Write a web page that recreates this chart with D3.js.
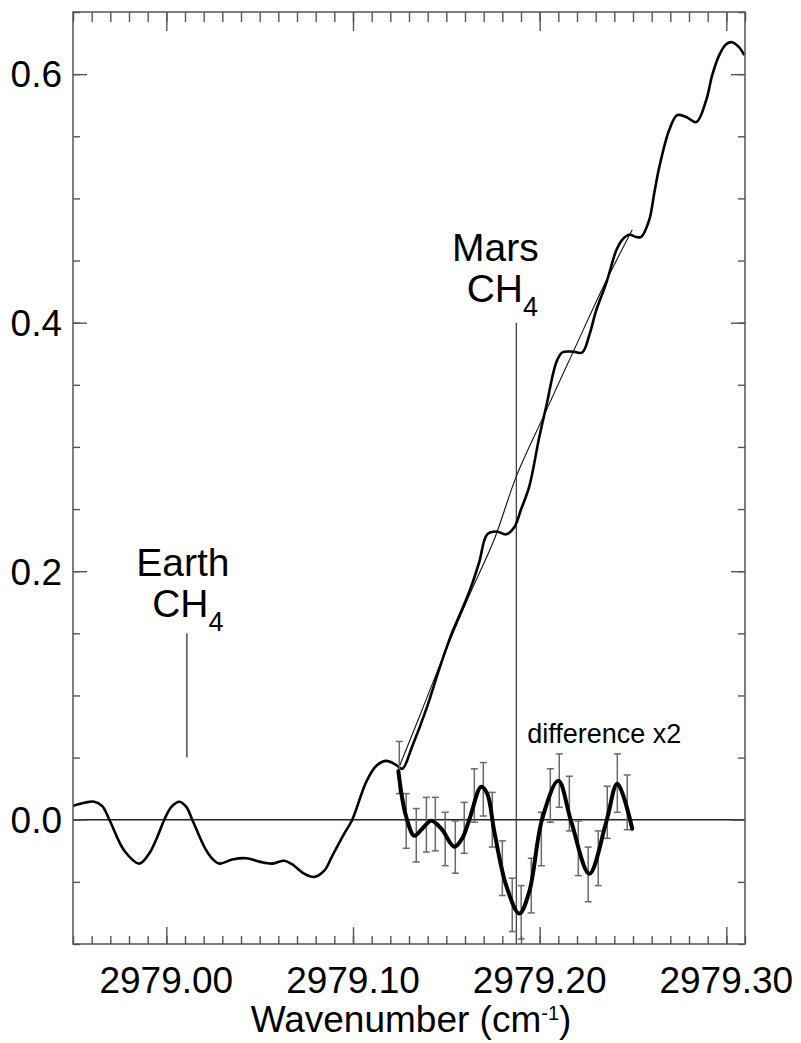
<!DOCTYPE html>
<html>
<head>
<meta charset="utf-8">
<script src="https://cdn.jsdelivr.net/npm/d3@7"></script>
<style>
  body { margin: 0; background: #fff; }
  svg text { font-family: "Liberation Sans", Arial, Helvetica, sans-serif; fill: #000; }
</style>
</head>
<body>
<div id="chart"></div>
<script>
var width = 801, height = 1043;
var margin = {top: 12, right: 56, bottom: 99, left: 73};

// observed spectrum (wavenumber, signal)
var specWn = [2978.9497, 2978.9561, 2978.9614, 2978.9657, 2978.9695, 2978.9775, 2978.9855, 2978.9909, 2978.9952, 2978.9989,
  2979.0027, 2979.0070, 2979.0107, 2979.0139, 2979.0204, 2979.0246, 2979.0284, 2979.0353, 2979.0428, 2979.0498,
  2979.0568, 2979.0632, 2979.0675, 2979.0739, 2979.0793, 2979.0846, 2979.0889, 2979.0953, 2979.0996, 2979.1071,
  2979.1125, 2979.1178, 2979.1232, 2979.1264, 2979.1318, 2979.1393, 2979.1462, 2979.1532, 2979.1585, 2979.1634,
  2979.1676, 2979.1719, 2979.1768, 2979.1821, 2979.1864, 2979.1901, 2979.1944, 2979.1998, 2979.2035, 2979.2089,
  2979.2121, 2979.2175, 2979.2228, 2979.2266, 2979.2303, 2979.2357, 2979.2410, 2979.2442, 2979.2480, 2979.2517,
  2979.2544, 2979.2587, 2979.2614, 2979.2641, 2979.2694, 2979.2737, 2979.2785, 2979.2839, 2979.2892, 2979.2924,
  2979.2962, 2979.2999, 2979.3031, 2979.3068, 2979.3096];
var specVal = [0.011, 0.0137, 0.0145, 0.011, 0.000, -0.025, -0.0353, -0.027, -0.0137, 0.000,
  0.0104, 0.0145, 0.0104, 0.000, -0.022, -0.0313, -0.0353, -0.032, -0.031, -0.0337,
  -0.0353, -0.033, -0.036, -0.0434, -0.046, -0.041, -0.029, -0.0112, 0.000, 0.0305,
  0.0434, 0.0474, 0.0440, 0.041, 0.0594, 0.0892, 0.1213, 0.151, 0.1695, 0.188,
  0.2072, 0.2297, 0.232, 0.2297, 0.2353, 0.25, 0.268, 0.308, 0.3325, 0.368,
  0.376, 0.3767, 0.376, 0.39, 0.41, 0.432, 0.458, 0.4667, 0.4707, 0.469,
  0.469, 0.4827, 0.5044, 0.5253, 0.555, 0.567, 0.5655, 0.5614, 0.579, 0.599,
  0.6153, 0.624, 0.6257, 0.6217, 0.6153];

// model without Mars methane (thin line)
var modelWn = [2979.1237, 2979.1355, 2979.1489, 2979.1623, 2979.1757, 2979.1875, 2979.2025, 2979.2185, 2979.2346, 2979.2496];
var modelVal = [0.0386, 0.0827, 0.1333, 0.1807, 0.2257, 0.2763, 0.326, 0.3783, 0.4305, 0.4747];

// difference x2 (smooth thick curve)
var diffWn = [2979.1243, 2979.1264, 2979.1285, 2979.1328, 2979.1371, 2979.1419, 2979.1473, 2979.1543, 2979.1585, 2979.1623,
  2979.1687, 2979.1719, 2979.1757, 2979.1821, 2979.1891, 2979.1944, 2979.2014, 2979.2100, 2979.2169, 2979.2266,
  2979.2357, 2979.2416, 2979.2496];
var diffVal = [0.039, 0.017, 0.0024, -0.0129, -0.0072, -0.0008, -0.0072, -0.0217, -0.015, 0.000,
  0.0265, 0.021, -0.0096, -0.053, -0.0755, -0.058, 0.001, 0.0313, -0.0016, -0.0434,
  -0.0016, 0.0289, -0.0072];

// difference data points with error bars
var errWn = [2979.1248, 2979.1285, 2979.1339, 2979.1393, 2979.1441, 2979.1494, 2979.1548, 2979.1596, 2979.1650, 2979.1698,
  2979.1746, 2979.1800, 2979.1853, 2979.1901, 2979.1955, 2979.2009, 2979.2057, 2979.2105, 2979.2159, 2979.2207,
  2979.2260, 2979.2314, 2979.2362, 2979.2416, 2979.2469];
var errVal = [0.042, -0.001, -0.0125, -0.004, -0.0035, -0.0155, -0.022, -0.0065, 0.0195, 0.0245,
  0.000, -0.039, -0.0685, -0.0745, -0.053, -0.0155, 0.0195, 0.0315, 0.013, -0.023,
  -0.044, -0.031, 0.006, 0.0295, 0.014];
var errSig = [0.021, 0.022, 0.0215, 0.022, 0.0215, 0.0215, 0.021, 0.0205, 0.0215, 0.0215,
  0.022, 0.022, 0.0215, 0.0215, 0.022, 0.0215, 0.0215, 0.0215, 0.022, 0.022,
  0.022, 0.022, 0.021, 0.0235, 0.022];

var xMajor = [2979.00, 2979.10, 2979.20, 2979.30];
var xTickLabels = ["2979.00", "2979.10", "2979.20", "2979.30"];
var yMajor = [0.0, 0.2, 0.4, 0.6];
var yTickLabels = ["0.0", "0.2", "0.4", "0.6"];

var earthWn = 2979.011, marsWn = 2979.1875;

var w = width - margin.left - margin.right,
    h = height - margin.top - margin.bottom;

var x = d3.scaleLinear().domain([2978.95, 2979.31]).range([0, w]);
var y = d3.scaleLinear().domain([-0.1, 0.65]).range([h, 0]);

var svg = d3.select("#chart").append("svg")
  .attr("width", width)
  .attr("height", height);

var g = svg.append("g").attr("transform", "translate(" + margin.left + "," + margin.top + ")");

g.append("clipPath").attr("id", "plotclip")
  .append("rect").attr("width", w).attr("height", h);

var plot = g.append("g").attr("clip-path", "url(#plotclip)");

// axes: minor + major ticks on all four sides
var xMinor = d3.range(2978.95, 2979.3101, 0.01).map(function(v){ return Math.round(v*100)/100; });
var yMinor = d3.range(-0.1, 0.651, 0.05).map(function(v){ return Math.round(v*100)/100; });

function axisStyle(sel) {
  sel.select(".domain").remove();
  sel.selectAll(".tick line").attr("stroke", "#555").attr("stroke-width", 1.4);
}

g.append("g").attr("transform", "translate(0," + h + ")")
  .call(d3.axisTop(x).tickValues(xMinor).tickSize(8).tickFormat(""))
  .call(axisStyle);
g.append("g").attr("transform", "translate(0," + h + ")")
  .call(d3.axisTop(x).tickValues(xMajor).tickSize(17).tickFormat(""))
  .call(axisStyle);
g.append("g")
  .call(d3.axisBottom(x).tickValues(xMinor).tickSize(10).tickFormat(""))
  .call(axisStyle);
g.append("g")
  .call(d3.axisBottom(x).tickValues(xMajor).tickSize(19).tickFormat(""))
  .call(axisStyle);

g.append("g")
  .call(d3.axisRight(y).tickValues(yMinor).tickSize(7).tickFormat(""))
  .call(axisStyle);
g.append("g")
  .call(d3.axisRight(y).tickValues(yMajor).tickSize(14).tickFormat(""))
  .call(axisStyle);
g.append("g").attr("transform", "translate(" + w + ",0)")
  .call(d3.axisLeft(y).tickValues(yMinor).tickSize(7).tickFormat(""))
  .call(axisStyle);
g.append("g").attr("transform", "translate(" + w + ",0)")
  .call(d3.axisLeft(y).tickValues(yMajor).tickSize(14).tickFormat(""))
  .call(axisStyle);

// frame
g.append("rect").attr("width", w).attr("height", h)
  .attr("fill", "none").attr("stroke", "#555").attr("stroke-width", 1.5);

// tick labels
g.selectAll(".ylab").data(yMajor).enter().append("text")
  .attr("class", "ylab")
  .attr("x", -11)
  .attr("y", function(d){ return y(d); })
  .attr("dy", "0.36em")
  .attr("text-anchor", "end")
  .style("font-size", "37px")
  .text(function(d, i){ return yTickLabels[i]; });

g.selectAll(".xlab").data(xMajor).enter().append("text")
  .attr("class", "xlab")
  .attr("x", function(d){ return x(d); })
  .attr("y", h + 49)
  .attr("text-anchor", "middle")
  .style("font-size", "37px")
  .text(function(d, i){ return xTickLabels[i]; });

var title = g.append("text")
  .attr("x", w / 2 + 2)
  .attr("y", h + 88)
  .attr("text-anchor", "middle")
  .style("font-size", "37px");
title.append("tspan").text("Wavenumber (cm");
title.append("tspan").attr("dy", -12).style("font-size", "20px").text("-1");
title.append("tspan").attr("dy", 12).text(")");

// zero line
plot.append("line")
  .attr("x1", 0).attr("x2", w)
  .attr("y1", y(0)).attr("y2", y(0))
  .attr("stroke", "#222").attr("stroke-width", 1.6);

// Earth / Mars markers
plot.append("line")
  .attr("x1", x(earthWn)).attr("x2", x(earthWn))
  .attr("y1", y(0.15)).attr("y2", y(0.05))
  .attr("stroke", "#333").attr("stroke-width", 1.3);
plot.append("line")
  .attr("x1", x(marsWn)).attr("x2", x(marsWn))
  .attr("y1", y(0.40)).attr("y2", h)
  .attr("stroke", "#444").attr("stroke-width", 1.3);

var line = d3.line()
  .x(function(d){ return x(d[0]); })
  .y(function(d){ return y(d[1]); })
  .curve(d3.curveCatmullRom.alpha(0.5));

// model (thin)
plot.append("path")
  .datum(d3.zip(modelWn, modelVal))
  .attr("d", line)
  .attr("fill", "none").attr("stroke", "#111").attr("stroke-width", 1.1);

// spectrum
plot.append("path")
  .datum(d3.zip(specWn, specVal))
  .attr("d", line)
  .attr("fill", "none").attr("stroke", "#000").attr("stroke-width", 2.6);

// error bars
var eb = plot.selectAll(".eb").data(d3.range(errWn.length)).enter().append("g")
  .attr("class", "eb")
  .attr("stroke", "#6a6a6a").attr("stroke-width", 1.5);
eb.append("line")
  .attr("x1", function(i){ return x(errWn[i]); })
  .attr("x2", function(i){ return x(errWn[i]); })
  .attr("y1", function(i){ return y(errVal[i] + errSig[i]); })
  .attr("y2", function(i){ return y(errVal[i] - errSig[i]); });
eb.append("line")
  .attr("x1", function(i){ return x(errWn[i]) - 3.5; })
  .attr("x2", function(i){ return x(errWn[i]) + 3.5; })
  .attr("y1", function(i){ return y(errVal[i] + errSig[i]); })
  .attr("y2", function(i){ return y(errVal[i] + errSig[i]); });
eb.append("line")
  .attr("x1", function(i){ return x(errWn[i]) - 3.5; })
  .attr("x2", function(i){ return x(errWn[i]) + 3.5; })
  .attr("y1", function(i){ return y(errVal[i] - errSig[i]); })
  .attr("y2", function(i){ return y(errVal[i] - errSig[i]); });

// difference x2
plot.append("path")
  .datum(d3.zip(diffWn, diffVal))
  .attr("d", line)
  .attr("fill", "none").attr("stroke", "#000").attr("stroke-width", 4)
  .attr("stroke-linecap", "round");

// annotations
function speciesLabel(name, cx, baseline, subX) {
  g.append("text")
    .attr("x", cx).attr("y", baseline)
    .attr("text-anchor", "middle")
    .style("font-size", "39px")
    .text(name);
  var t = g.append("text")
    .attr("x", subX).attr("y", baseline + 41)
    .attr("text-anchor", "middle")
    .style("font-size", "39px");
  t.append("tspan").text("CH");
  t.append("tspan").attr("dy", 14).style("font-size", "27px").text("4");
}
speciesLabel("Earth", x(earthWn) - 4, y(0.196), x(earthWn) + 1);
speciesLabel("Mars", x(marsWn) - 21, y(0.450), x(marsWn) - 14);

g.append("text")
  .attr("x", x(2979.1933))
  .attr("y", y(0.062))
  .attr("text-anchor", "start")
  .style("font-size", "27px")
  .text("difference x2");
</script>
</body>
</html>
